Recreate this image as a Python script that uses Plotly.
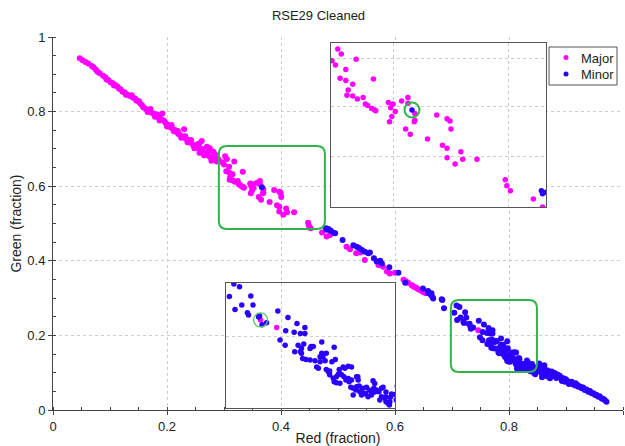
import plotly.graph_objects as go

# ---------------------------------------------------------------- data
# Major population (red fraction, green fraction)
major_red = [
    0.047, 0.052, 0.057, 0.068, 0.071, 0.078, 0.082, 0.088, 0.092, 0.097,
    0.101, 0.105, 0.109, 0.113, 0.116, 0.122, 0.126, 0.130, 0.135, 0.140,
    0.144, 0.148, 0.153, 0.156, 0.160, 0.164, 0.169, 0.173, 0.177, 0.181,
    0.185, 0.189, 0.192, 0.194, 0.198, 0.202, 0.206, 0.210, 0.214, 0.217,
    0.220, 0.223, 0.230, 0.228, 0.233, 0.237, 0.240, 0.243, 0.246, 0.251,
    0.255, 0.258, 0.261, 0.263, 0.267, 0.270, 0.275,
    0.062, 0.075, 0.094, 0.107, 0.119, 0.128, 0.138, 0.146, 0.151, 0.158,
    0.166, 0.171, 0.179, 0.183, 0.187, 0.196, 0.200, 0.208, 0.212, 0.219,
    0.225, 0.232, 0.236, 0.242, 0.248, 0.253, 0.257, 0.262, 0.265, 0.272,
    0.257, 0.270, 0.281, 0.275, 0.287, 0.280, 0.284, 0.290, 0.278, 0.286,
    0.302, 0.305, 0.297, 0.300, 0.318, 0.309, 0.304, 0.309, 0.315, 0.333,
    0.311, 0.310, 0.315, 0.319, 0.324, 0.326, 0.328, 0.3315, 0.334, 0.335,
    0.346, 0.350, 0.348, 0.3575, 0.363, 0.363, 0.352, 0.349, 0.347, 0.369,
    0.369, 0.3685, 0.361, 0.365, 0.388, 0.397, 0.3995, 0.4004, 0.380, 0.393,
    0.397, 0.409, 0.397, 0.4106, 0.423, 0.404, 0.4476, 0.452, 0.472,
    0.480, 0.486, 0.449,
    0.515, 0.521, 0.532, 0.539, 0.547, 0.571, 0.579, 0.586, 0.591, 0.600,
    0.615, 0.623, 0.629, 0.635, 0.641, 0.647, 0.654,
    0.619, 0.632, 0.638, 0.644, 0.650,
    0.7317, 0.746,
]
major_green = [
    0.943, 0.938, 0.933, 0.922, 0.919, 0.907, 0.903, 0.896, 0.892, 0.885,
    0.879, 0.876, 0.871, 0.867, 0.861, 0.853, 0.851, 0.846, 0.842, 0.838,
    0.835, 0.829, 0.822, 0.818, 0.810, 0.806, 0.802, 0.797, 0.794, 0.788,
    0.785, 0.780, 0.795, 0.777, 0.769, 0.764, 0.758, 0.754, 0.751, 0.745,
    0.740, 0.737, 0.753, 0.733, 0.727, 0.724, 0.718, 0.715, 0.710, 0.706,
    0.702, 0.697, 0.721, 0.693, 0.688, 0.684, 0.702,
    0.929, 0.913, 0.886, 0.870, 0.859, 0.845, 0.844, 0.830, 0.828, 0.812,
    0.799, 0.807, 0.786, 0.792, 0.776, 0.773, 0.760, 0.764, 0.747, 0.748,
    0.730, 0.734, 0.718, 0.724, 0.702, 0.712, 0.690, 0.700, 0.683, 0.692,
    0.715, 0.706, 0.693, 0.679, 0.666, 0.675, 0.686, 0.672, 0.668, 0.681,
    0.680, 0.673, 0.664, 0.658, 0.666, 0.652, 0.640, 0.637, 0.632, 0.639,
    0.624, 0.617, 0.616, 0.612, 0.614, 0.605, 0.603, 0.599, 0.597, 0.596,
    0.607, 0.605, 0.600, 0.609, 0.614, 0.606, 0.595, 0.588, 0.581, 0.592,
    0.583, 0.581, 0.571, 0.564, 0.590, 0.585, 0.582, 0.571, 0.5575, 0.549,
    0.545, 0.540, 0.532, 0.530, 0.530, 0.5235, 0.502, 0.487, 0.476,
    0.465, 0.469, 0.494,
    0.438, 0.431, 0.420, 0.422, 0.402, 0.389, 0.384, 0.371, 0.366, 0.368,
    0.349, 0.341, 0.335, 0.329, 0.324, 0.319, 0.313,
    0.345, 0.332, 0.327, 0.322, 0.316,
    0.2254, 0.214,
]

# Minor population (red fraction, green fraction)
minor_red = [
    0.3665, 0.480,
    0.479, 0.483, 0.487, 0.492, 0.495, 0.508, 0.527, 0.533, 0.537, 0.542,
    0.547, 0.553, 0.556, 0.563, 0.568, 0.574, 0.577, 0.590, 0.606, 0.618,
    0.649, 0.658, 0.664, 0.666, 0.682, 0.658, 0.663, 0.667, 0.683, 0.686,
    0.708, 0.713, 0.704, 0.723, 0.709, 0.715, 0.725, 0.720, 0.721, 0.730,
    0.7308, 0.737, 0.733, 0.747, 0.756, 0.764, 0.771, 0.767, 0.7615, 0.754,
    0.749, 0.7535, 0.765, 0.770, 0.7765, 0.786, 0.790, 0.797, 0.762, 0.767,
    0.768, 0.772, 0.769, 0.7756, 0.780, 0.7845, 0.789, 0.795, 0.798, 0.783,
    0.7815, 0.790, 0.793, 0.8015, 0.8065, 0.8095, 0.8124, 0.793, 0.799, 0.8006,
    0.8036, 0.8074, 0.8095, 0.797, 0.799, 0.8118, 0.8139, 0.8169, 0.8192, 0.8222,
    0.8257, 0.828, 0.8251, 0.8301, 0.8315, 0.833, 0.839, 0.8404, 0.8368, 0.8428,
    0.8469, 0.8464, 0.839, 0.8169, 0.8183, 0.8124, 0.787, 0.846, 0.843, 0.833,
    0.824, 0.818, 0.805, 0.802, 0.7845, 0.786, 0.7785, 0.7756, 0.768, 0.771,
    0.8139, 0.8198, 0.8227, 0.8271, 0.8322, 0.8345, 0.8419, 0.8448, 0.8375, 0.8301,
    0.8213, 0.8163, 0.8103, 0.8057, 0.8021, 0.7962, 0.7918,
    0.843, 0.851, 0.860, 0.866, 0.872, 0.878, 0.8865, 0.892, 0.898, 0.907,
    0.913, 0.9216, 0.9275, 0.933, 0.939, 0.945, 0.951, 0.9567, 0.9626, 0.968,
    0.971,
    0.855, 0.852, 0.858, 0.862, 0.868, 0.864, 0.875, 0.870, 0.880, 0.883,
    0.885, 0.889, 0.895, 0.893, 0.900, 0.903, 0.905, 0.910, 0.917, 0.916,
    0.920, 0.925, 0.930, 0.936, 0.942, 0.948, 0.953, 0.959, 0.965, 0.898,
    0.857, 0.848, 0.876, 0.891, 0.912, 0.853, 0.862, 0.858, 0.872,
]
minor_green = [
    0.597, 0.483,
    0.487, 0.485, 0.481, 0.475, 0.474, 0.456, 0.442, 0.438, 0.434, 0.429,
    0.424, 0.420, 0.422, 0.407, 0.398, 0.400, 0.393, 0.383, 0.368, 0.341,
    0.326, 0.319, 0.313, 0.302, 0.297, 0.314, 0.308, 0.299, 0.295, 0.273,
    0.280, 0.276, 0.261, 0.262, 0.2415, 0.248, 0.248, 0.2365, 0.233, 0.230,
    0.2315, 0.221, 0.218, 0.239, 0.229, 0.220, 0.214, 0.205, 0.2066, 0.209,
    0.195, 0.187, 0.187, 0.189, 0.185, 0.192, 0.175, 0.184, 0.177, 0.177,
    0.175, 0.1655, 0.167, 0.1646, 0.1635, 0.162, 0.1635, 0.162, 0.1655, 0.152,
    0.154, 0.150, 0.148, 0.150, 0.152, 0.155, 0.154, 0.142, 0.139, 0.143,
    0.142, 0.134, 0.1366, 0.1316, 0.130, 0.123, 0.1216, 0.124, 0.125, 0.1216,
    0.123, 0.119, 0.113, 0.1114, 0.133, 0.129, 0.1216, 0.123, 0.1164, 0.1088,
    0.108, 0.101, 0.1088, 0.139, 0.134, 0.134, 0.169, 0.096, 0.101, 0.116,
    0.114, 0.139, 0.154, 0.144, 0.1696, 0.175, 0.185, 0.182, 0.182, 0.205,
    0.1114, 0.1164, 0.114, 0.1088, 0.1216, 0.119, 0.1064, 0.0988, 0.1038, 0.1164,
    0.1114, 0.119, 0.1316, 0.1392, 0.1292, 0.1368, 0.1468,
    0.116, 0.112, 0.103, 0.098, 0.0965, 0.091, 0.089, 0.082, 0.076, 0.073,
    0.070, 0.0625, 0.058, 0.0536, 0.049, 0.0447, 0.040, 0.0357, 0.031, 0.027,
    0.022,
    0.118, 0.104, 0.096, 0.112, 0.106, 0.092, 0.103, 0.088, 0.099, 0.086,
    0.095, 0.092, 0.085, 0.078, 0.082, 0.077, 0.070, 0.076, 0.072, 0.066,
    0.067, 0.063, 0.060, 0.055, 0.051, 0.045, 0.041, 0.037, 0.030, 0.083,
    0.108, 0.113, 0.094, 0.087, 0.069, 0.125, 0.120, 0.088, 0.085,
]

series_names = ["Major", "Minor"]
axis_ticks = [0, 0.2, 0.4, 0.6, 0.8, 1]

# zoom regions marked on the main plot and the ranges of the two close-up panels
box_upper = dict(x=(0.291, 0.477), y=(0.485, 0.708))
box_lower = dict(x=(0.698, 0.849), y=(0.102, 0.295))
inset_upper = dict(x=(0.2961, 0.483), y=(0.465, 0.688))
inset_lower = dict(x=(0.701, 0.851), y=(0.0916, 0.2816))
highlight_upper = 0   # index into the minor arrays
highlight_lower = len(major_red) - 2   # index into the major arrays

# ---------------------------------------------------------------- style
W, H = 625, 446
ML, MR, MT, MB = 53, 2, 37, 36
PX_X = (W - ML - MR)
PX_Y = (H - MT - MB)
FONT = "Liberation Sans, Arial, sans-serif"
MAGENTA = "#ff00ff"
BLUE = "#2a00ff"
GREEN = "#30b34a"
AXIS = "#444444"
GRID = "#cdcdcd"
colors = [MAGENTA, BLUE]


def rounded_box(xr, yr, r_px=8):
    x0, x1 = xr
    y0, y1 = yr
    rx, ry = r_px / PX_X, r_px / PX_Y
    return (f"M {x0 + rx},{y1} L {x1 - rx},{y1} Q {x1},{y1} {x1},{y1 - ry} "
            f"L {x1},{y0 + ry} Q {x1},{y0} {x1 - rx},{y0} "
            f"L {x0 + rx},{y0} Q {x0},{y0} {x0},{y0 + ry} "
            f"L {x0},{y1 - ry} Q {x0},{y1} {x0 + rx},{y1} Z")


def px_x(p):
    """page pixel column -> plot-area paper fraction"""
    return (p - ML) / PX_X


def px_y(p):
    """page pixel row -> plot-area paper fraction"""
    return (H - MB - p) / PX_Y


fig = go.Figure()

series = [(major_red, major_green), (minor_red, minor_green)]
for (xs, ys), name, col in zip(series, series_names, colors):
    fig.add_trace(go.Scatter(x=xs, y=ys, mode="markers", name=name, showlegend=False,
                             marker=dict(color=col, size=6, line=dict(width=0)),
                             xaxis="x", yaxis="y"))
for ax in ("2", "3"):
    for (xs, ys), name, col in zip(series, series_names, colors):
        fig.add_trace(go.Scatter(x=xs, y=ys, mode="markers", name=name,
                                 showlegend=False,
                                 marker=dict(color=col, size=5.5, line=dict(width=0)),
                                 xaxis="x" + ax, yaxis="y" + ax))

main_axis = dict(range=[0, 1], tickvals=axis_ticks, showline=True, linecolor=AXIS,
                 linewidth=1, ticks="outside", ticklen=4, tickcolor=AXIS,
                 showgrid=True, gridcolor=GRID, griddash="dot", gridwidth=1,
                 zeroline=False, automargin=False,
                 tickfont=dict(size=13, color="#222", family=FONT),
                 minor=dict(dtick=0.05, ticks="inside", ticklen=3, tickcolor=AXIS,
                            showgrid=False))

inset_axis = dict(showline=True, mirror=True, linecolor="#555", linewidth=1,
                  ticks="", showticklabels=False, showgrid=True, gridcolor=GRID,
                  griddash="dot", zeroline=False, automargin=False)

# inset panel positions (pixels on the page)
up_px = (331, 546, 43, 207)
lo_px = (226, 395, 283, 408)

fig.update_layout(
    width=W, height=H,
    margin=dict(l=ML, r=MR, t=MT, b=MB, autoexpand=False),
    paper_bgcolor="white", plot_bgcolor="white",
    font=dict(family=FONT, size=13, color="#222"),
    title=dict(text="RSE29 Cleaned", x=318.5 / W, xanchor="center",
               y=1 - 15.5 / H, yanchor="middle",
               font=dict(size=13, color="#222", family=FONT)),
    xaxis=dict(main_axis, title=dict(text="Red (fraction)", standoff=4,
                                     font=dict(size=14, family=FONT, color="#222"))),
    yaxis=dict(main_axis, title=dict(text="Green (fraction)", standoff=2,
                                     font=dict(size=14, family=FONT, color="#222"))),
    xaxis2=dict(inset_axis, range=list(inset_upper["x"]), tickvals=[0.35, 0.45],
                domain=[px_x(up_px[0]), px_x(up_px[1])], anchor="y2"),
    yaxis2=dict(inset_axis, range=list(inset_upper["y"]), tickvals=[0.534, 0.6015, 0.667],
                domain=[px_y(up_px[3]), px_y(up_px[2])], anchor="x2"),
    xaxis3=dict(inset_axis, range=list(inset_lower["x"]), tickvals=[0.75],
                domain=[px_x(lo_px[0]), px_x(lo_px[1])], anchor="y3"),
    yaxis3=dict(inset_axis, range=list(inset_lower["y"]), tickvals=[0.2],
                domain=[px_y(lo_px[3]), px_y(lo_px[2])], anchor="x3"),
    showlegend=False,
)

shapes = [
    dict(type="path", xref="x", yref="y", path=rounded_box(box_upper["x"], box_upper["y"]),
         line=dict(color=GREEN, width=2)),
    dict(type="path", xref="x", yref="y", path=rounded_box(box_lower["x"], box_lower["y"]),
         line=dict(color=GREEN, width=2)),
    dict(type="circle", xref="x2", yref="y2", xsizemode="pixel", ysizemode="pixel",
         xanchor=minor_red[highlight_upper], yanchor=minor_green[highlight_upper],
         x0=-7.5, x1=7.5, y0=-7.5, y1=7.5, line=dict(color=GREEN, width=2)),
    dict(type="circle", xref="x3", yref="y3", xsizemode="pixel", ysizemode="pixel",
         xanchor=major_red[highlight_lower], yanchor=major_green[highlight_lower],
         x0=-7, x1=7, y0=-7, y1=7, line=dict(color="#5cc46e", width=1.3)),
    # legend frame
    dict(type="rect", xref="paper", yref="paper",
         x0=px_x(549), x1=px_x(617), y0=px_y(85), y1=px_y(47),
         line=dict(color="#555", width=1), fillcolor="white"),
]

# legend entries: a dot in the series colour followed by the series name
annotations = []
for i, (name, col) in enumerate(zip(series_names, colors)):
    row = 57.5 + 16.5 * i
    shapes.append(dict(type="circle", xref="paper", yref="paper",
                       xsizemode="pixel", ysizemode="pixel",
                       xanchor=px_x(566), yanchor=px_y(row),
                       x0=-2.5, x1=2.5, y0=-2.5, y1=2.5,
                       fillcolor=col, line=dict(width=0)))
    annotations.append(dict(text=name, xref="paper", yref="paper",
                            x=px_x(579), y=px_y(row + 0.5), xanchor="left", yanchor="middle",
                            showarrow=False,
                            font=dict(size=13, family=FONT, color="#222")))

fig.update_layout(shapes=shapes, annotations=annotations)

fig.write_html("out.html")
